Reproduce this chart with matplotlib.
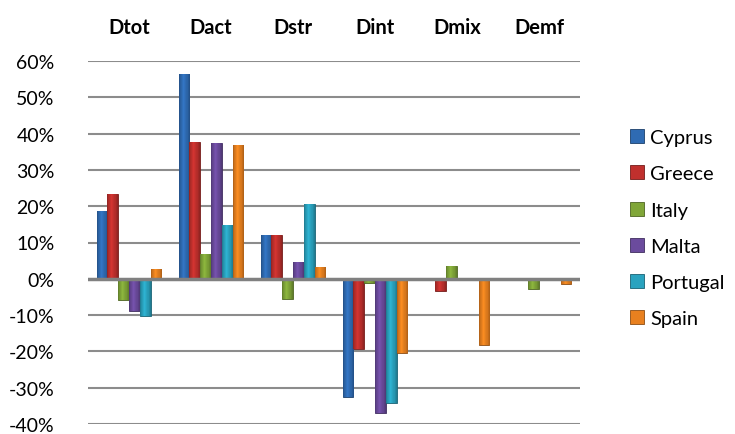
import numpy as np
import matplotlib
matplotlib.use('Agg')
import matplotlib.pyplot as plt
from matplotlib.colors import to_rgb

plt.rcParams['font.family'] = ['Lato', 'DejaVu Sans']

groups = ['Dtot', 'Dact', 'Dstr', 'Dint', 'Dmix', 'Demf']
countries = ['Cyprus', 'Greece', 'Italy', 'Malta', 'Portugal', 'Spain']

# shares in %, one list per country over the six components
cyprus = [18.7, 56.5, 12.0, -32.6, 0.0, 0.0]
greece = [23.3, 37.6, 12.0, -19.4, -3.3, 0.0]
italy = [-5.9, 6.7, -5.5, -1.2, 3.4, -2.8]
malta = [-8.9, 37.3, 4.6, -37.0, 0.0, 0.0]
portugal = [-10.3, 14.8, 20.5, -34.2, 0.0, 0.0]
spain = [2.6, 36.9, 3.2, -20.5, -18.2, -1.4]

series = [cyprus, greece, italy, malta, portugal, spain]
colors = ['#2f6bb3', '#c0302d', '#80a638', '#6b4b9d', '#2aa3bf', '#e8801f']

def shade(c, f):
    return tuple(min(1, v*f) for v in to_rgb(c))

def bevel(ax, bars, c):
    # horizontal dark-light-dark ramp clipped to each bar
    dark, mid, light = np.array(shade(c, 0.75)), np.array(to_rgb(c)), np.array(shade(c, 1.12))
    t = np.linspace(0, 1, 24)
    prof = np.where(t < 0.4, t/0.4, (1-t)/0.6)
    img = np.array([dark + (light-dark)*p if p > 0.5 else dark + (mid-dark)*p*2 for p in prof])
    img = img[np.newaxis, :, :]
    for b in bars:
        x0, y0 = b.get_x(), b.get_y()
        x1, y1 = x0 + b.get_width(), y0 + b.get_height()
        if abs(y1 - y0) < 1e-9:
            continue
        im = ax.imshow(img, extent=(x0, x1, min(y0, y1), max(y0, y1)),
                       aspect='auto', zorder=3.5, interpolation='bilinear')
        im.set_clip_path(b)

fig = plt.figure(figsize=(7.35, 4.35), dpi=100)
ax = fig.add_axes([88/735, 1-425/435, (580-88)/735, (425-62)/435])

x = np.arange(len(groups))
w = 0.132
for i, (vals, name, c) in enumerate(zip(series, countries, colors)):
    bars = ax.bar(x + (i-2.5)*w, np.array(vals)/100, width=w, color=c,
                  edgecolor=shade(c, 0.6), linewidth=0.6, label=name, zorder=3)
    bevel(ax, bars, c)

ax.set_xlim(-0.5, len(groups)-0.5)
ax.set_ylim(-0.4, 0.6)
ticks = np.arange(-0.4, 0.61, 0.1)
ax.set_yticks(ticks)
ax.set_yticklabels(['%d%%' % round(t*100) for t in ticks], fontsize=14)
ax.tick_params(axis='y', length=0, pad=24)
ax.set_xticks([])
for s in ax.spines.values():
    s.set_visible(False)
for t in ticks:
    if abs(t) < 1e-9:
        continue
    ax.axhline(t, color='#8c8c8c', lw=1.5, zorder=1)
ax.axhline(0, color='#808080', lw=2.5, zorder=4)

# component names along the top
for xi, g in zip(x, groups):
    ax.text(xi, 0.693, g, ha='center', va='center', fontsize=14.5,
            fontweight='bold', clip_on=False)

fig.legend(loc='upper left', bbox_to_anchor=(612/735, 1-112/435),
           frameon=False, fontsize=14.5, labelspacing=0.95,
           handlelength=0.7, handleheight=0.7, handletextpad=0.3)

fig.savefig('out.png', dpi=100)
